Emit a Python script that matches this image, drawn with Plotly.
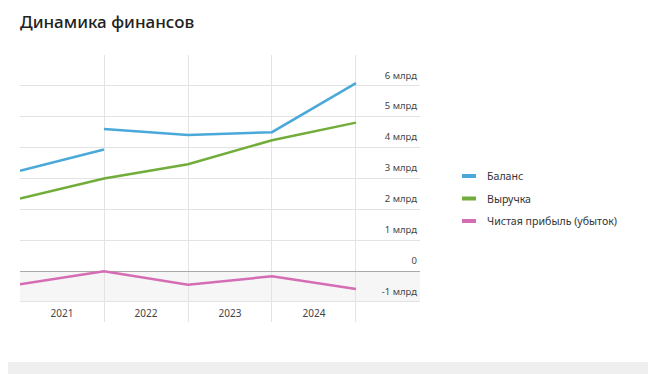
import plotly.graph_objects as go

years = ["2021", "2022", "2023", "2024"]
year_pos = [0.5, 1.5, 2.5, 3.5]
bounds = [0, 1, 2, 3, 4]

# Balance: start/end of each year (gap at 2022 start)
balance_x = [0, 1, 1, 1, 2, 3, 4]
balance = [3.25, 3.94, None, 4.60, 4.41, 4.50, 6.09]
revenue = [2.35, 3.00, 3.46, 4.24, 4.81]
profit = [-0.43, -0.01, -0.44, -0.17, -0.58]

y_ticks = [-1, 0, 1, 2, 3, 4, 5, 6]
y_text = ["-1 млрд", "0", "1 млрд", "2 млрд", "3 млрд", "4 млрд", "5 млрд", "6 млрд"]

names = ["Баланс", "Выручка", "Чистая прибыль (убыток)"]
colors = ["#4aa9d9", "#72ad3b", "#d46db3"]

# page body has an 8px margin; figure coords = page coords - 8
W, H = 648, 366
L, R, T, B = 12, 412, 47, 314
pw, ph = R - L, B - T

def px(xp):  # page x -> paper x
    return (xp - 8 - L) / pw

def py(yp):  # page y -> paper y
    return (B - (yp - 8)) / ph

fig = go.Figure()
fig.add_trace(go.Scatter(x=balance_x, y=balance, mode="lines", name=names[0],
                         line=dict(color=colors[0], width=2.5), connectgaps=False))
fig.add_trace(go.Scatter(x=bounds, y=revenue, mode="lines", name=names[1],
                         line=dict(color=colors[1], width=2.5)))
fig.add_trace(go.Scatter(x=bounds, y=profit, mode="lines", name=names[2],
                         line=dict(color=colors[2], width=2.5)))

fig.add_shape(type="rect", xref="paper", yref="y", x0=0, x1=1, y0=-1, y1=0,
              fillcolor="#f6f6f6", line_width=0, layer="below")
fig.add_shape(type="rect", xref="paper", yref="paper", x0=-0.1, x1=1.7,
              y0=py(362), y1=py(380), fillcolor="#efefef", line_width=0, layer="below")

# custom legend
leg_y = [176, 198.5, 221]
for name, col, yy in zip(names, colors, leg_y):
    fig.add_shape(type="line", xref="paper", yref="paper",
                  x0=px(462), x1=px(476), y0=py(yy), y1=py(yy),
                  line=dict(color=col, width=4))
    fig.add_annotation(text=name, xref="paper", yref="paper", x=px(485), y=py(yy),
                       xanchor="left", yanchor="middle", showarrow=False,
                       font=dict(size=10.6, color="#333"))

fig.update_layout(
    width=W, height=H,
    margin=dict(l=L, r=W - R, t=T, b=H - B),
    paper_bgcolor="white", plot_bgcolor="white",
    font=dict(family="Noto Sans", color="#333"),
    title=dict(text="Динамика финансов", x=12/W, xref="container", xanchor="left",
               y=1 - 14/H, yref="container", yanchor="middle",
               font=dict(size=17, color="#222", weight=500)),
    showlegend=False,
    xaxis=dict(range=[0, 4.762], tickvals=year_pos, ticktext=years,
               ticklabelposition="inside", showgrid=False, zeroline=False,
               ticks="", tickfont=dict(size=10, color="#444"), ticklabelstandoff=0,
               minor=dict(tickvals=bounds, showgrid=True, gridcolor="#e3e3e3", gridwidth=1),
               fixedrange=True),
    yaxis=dict(range=[-1.65, 7.0], side="right", tickvals=y_ticks, ticktext=y_text,
               ticklabelposition="inside top", showgrid=True, gridcolor="#e3e3e3",
               zeroline=True, zerolinecolor="#aaaaaa", zerolinewidth=1,
               ticklabelshift=-4, ticklabelstandoff=0,
               tickfont=dict(size=9.5, color="#444"), ticks=""),
)

fig.write_html("out.html")
